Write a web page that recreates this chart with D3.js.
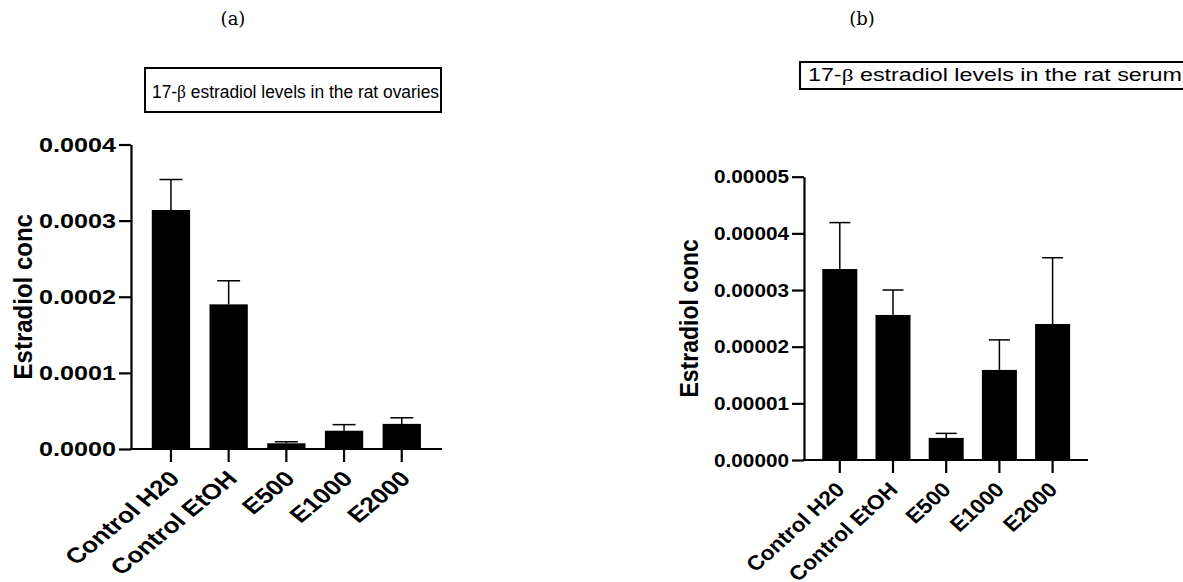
<!DOCTYPE html>
<html lang="en">
  <head>
    <meta charset="UTF-8" />
    <title>Estradiol levels</title>
    <script src="https://d3js.org/d3.v7.min.js"></script>
    <style>
      body { margin: 0; background: #fff; }
      svg { display: block; }
      .tick text { font-family: "Liberation Sans", Arial, sans-serif; font-weight: bold; fill: #000; }
    </style>
  </head>
  <body>
    <svg></svg>
    <script>
      // data
      const groups = ["Control H20", "Control EtOH", "E500", "E1000", "E2000"];
      const ovaryMean = [0.000314, 0.00019, 0.0000075, 0.000024, 0.000033];
      const ovarySem = [0.00004, 0.000031, 0.000002, 0.000008, 0.000008];
      const ovaryTicks = [0, 0.0001, 0.0002, 0.0003, 0.0004];
      const serumMean = [0.0000337, 0.0000256, 0.0000039, 0.0000159, 0.000024];
      const serumSem = [0.0000082, 0.0000044, 0.0000008, 0.0000053, 0.0000117];
      const serumTicks = [0, 0.00001, 0.00002, 0.00003, 0.00004, 0.00005];

      const width = 1183, height = 582;
      const svg = d3.select("svg").attr("width", width).attr("height", height);

      function panel(o) {
        const g = svg.append("g");

        // caption (a)/(b)
        g.append("text")
          .attr("x", o.capX).attr("y", o.capY)
          .attr("text-anchor", "middle")
          .style("font-family", "'DejaVu Serif', serif")
          .style("font-size", "18px")
          .text(o.caption);

        // boxed title, the pasted graph is stretched sideways
        g.append("rect")
          .attr("x", o.box[0]).attr("y", o.box[1])
          .attr("width", o.box[2]).attr("height", o.box[3])
          .attr("fill", "none").attr("stroke", "#000").attr("stroke-width", 2);
        const t = g.append("text")
          .attr("transform", `translate(${o.titleX},${o.titleY}) scale(${o.titleSx},1)`)
          .style("font-family", "'Liberation Sans', Arial, sans-serif")
          .style("font-size", o.titleSize + "px");
        t.append("tspan").text("17-");
        t.append("tspan").style("font-family", "'Liberation Serif', serif").text("β");
        t.append("tspan").text(" estradiol levels in the rat " + o.tissue);

        const y = d3.scaleLinear().domain([0, o.ticks[o.ticks.length - 1]]).range([o.y0, o.y1]);
        const x = d3.scaleBand().domain(groups).range(o.xr).paddingInner(o.pad).paddingOuter(o.pad / 2);

        // bars
        g.selectAll("rect.bar").data(o.mean).join("rect")
          .attr("class", "bar")
          .attr("x", (d, i) => x(groups[i]))
          .attr("width", x.bandwidth())
          .attr("y", d => y(d))
          .attr("height", d => y(0) - y(d))
          .attr("fill", "#000");

        // upper error bars
        const capW = x.bandwidth() * 0.6;
        const eb = g.selectAll("g.err").data(o.mean).join("g").attr("class", "err");
        eb.append("line")
          .attr("x1", (d, i) => x(groups[i]) + x.bandwidth() / 2)
          .attr("x2", (d, i) => x(groups[i]) + x.bandwidth() / 2)
          .attr("y1", d => y(d))
          .attr("y2", (d, i) => y(d + o.sem[i]))
          .attr("stroke", "#000").attr("stroke-width", 1.5);
        eb.append("line")
          .attr("x1", (d, i) => x(groups[i]) + x.bandwidth() / 2 - capW / 2)
          .attr("x2", (d, i) => x(groups[i]) + x.bandwidth() / 2 + capW / 2)
          .attr("y1", (d, i) => y(d + o.sem[i]))
          .attr("y2", (d, i) => y(d + o.sem[i]))
          .attr("stroke", "#000").attr("stroke-width", 1.5);

        // y axis
        const ya = g.append("g")
          .attr("transform", `translate(${o.axX},0)`)
          .call(d3.axisLeft(y).tickValues(o.ticks).tickFormat(d3.format(o.fmt)).tickSize(12).tickSizeOuter(0).tickPadding(3));
        ya.select(".domain").attr("stroke-width", 2.2);
        ya.selectAll(".tick line").attr("stroke-width", 2.2);
        ya.selectAll(".tick text")
          .style("font-size", o.tickSize + "px")
          .attr("textLength", o.tickLen).attr("lengthAdjust", "spacingAndGlyphs");

        // x axis, line drawn from y axis to the end
        const xa = g.append("g")
          .attr("transform", `translate(0,${o.y0})`)
          .call(d3.axisBottom(x).tickSize(13).tickSizeOuter(0));
        xa.select(".domain").remove();
        xa.selectAll(".tick line").attr("stroke-width", 2.2);
        xa.selectAll(".tick text")
          .style("font-size", o.lblSize + "px")
          .attr("text-anchor", "end")
          .attr("y", 0).attr("dy", 0)
          .attr("transform", `translate(${o.lblDx},${o.lblDy}) scale(${o.lblSx},1) rotate(-45)`);
        g.append("line")
          .attr("x1", o.axX - 1).attr("x2", o.xEnd)
          .attr("y1", o.y0).attr("y2", o.y0)
          .attr("stroke", "#000").attr("stroke-width", 2.2);

        // y axis title
        g.append("text")
          .attr("transform", `translate(${o.yTitleX},${(o.y0 + o.y1) / 2}) rotate(-90) scale(1,${o.yTitleSy})`)
          .attr("text-anchor", "middle")
          .style("font-family", "'Liberation Sans', Arial, sans-serif")
          .style("font-weight", "bold")
          .style("font-size", o.yTitleSize + "px")
          .text("Estradiol conc");
      }

      panel({
        caption: "(a)", capX: 233, capY: 25,
        box: [145, 68, 296, 44], titleX: 152, titleY: 97.5, titleSx: 0.94, titleSize: 18.5, tissue: "ovaries",
        ticks: ovaryTicks, fmt: ".4f", mean: ovaryMean, sem: ovarySem,
        y0: 449, y1: 144.5, axX: 131, xEnd: 442, xr: [142.1, 430.6], pad: 0.336,
        tickSize: 20.5, tickLen: 77, lblSize: 21.5, lblSx: 1.22, lblDx: 10, lblDy: 31,
        yTitleX: 32, yTitleSize: 24, yTitleSy: 1.1
      });

      panel({
        caption: "(b)", capX: 862, capY: 25,
        box: [800, 62, 400, 27], titleX: 808, titleY: 81, titleSx: 1.33, titleSize: 17.5, tissue: "serum",
        ticks: serumTicks, fmt: ".5f", mean: serumMean, sem: serumSem,
        y0: 460, y1: 176.7, axX: 804, xEnd: 1088, xr: [813.2, 1079.2], pad: 0.342,
        tickSize: 19, tickLen: 75, lblSize: 20.5, lblSx: 1.1, lblDx: 6, lblDy: 31,
        yTitleX: 698, yTitleSize: 23, yTitleSy: 1.15
      });
    </script>
  </body>
</html>
